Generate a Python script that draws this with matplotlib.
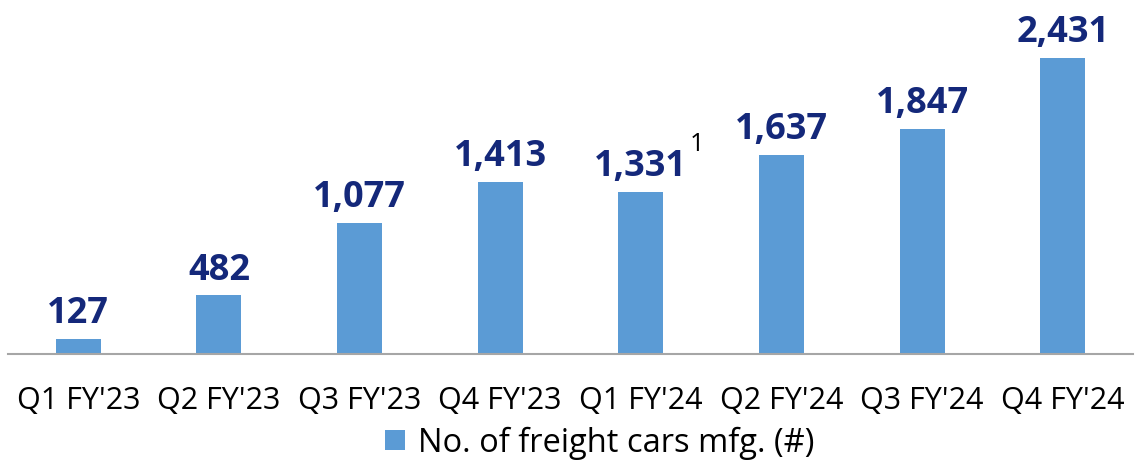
import matplotlib
matplotlib.use("Agg")
import matplotlib.pyplot as plt
from matplotlib.patches import Patch

quarters = ["Q1 FY'23", "Q2 FY'23", "Q3 FY'23", "Q4 FY'23",
            "Q1 FY'24", "Q2 FY'24", "Q3 FY'24", "Q4 FY'24"]
cars = [127, 482, 1077, 1413, 1331, 1637, 1847, 2431]
footnote_idx = 4  # Q1 FY'24 carries footnote 1

bar_color = "#5B9BD5"
label_color = "#14287A"

plt.rcParams['font.family'] = ['Open Sans', 'DejaVu Sans']

fig = plt.figure(figsize=(11.35, 4.66), dpi=100)
ax = fig.add_axes([8 / 1135, 112 / 466, 1125 / 1135, 354 / 466])

x = range(len(quarters))
bars = ax.bar(x, cars, width=0.32, color=bar_color, zorder=2)

for i, (b, v) in enumerate(zip(bars, cars)):
    ax.text(b.get_x() + b.get_width() / 2, v + 55, f"{v:,}",
            ha='center', va='bottom', fontsize=26, fontweight='bold',
            color=label_color)
ax.annotate("1", xy=(footnote_idx, cars[footnote_idx]), xytext=(56, 47),
            textcoords='offset pixels', fontsize=18, color='black',
            ha='center', va='center')

ax.set_xlim(-0.5, len(quarters) - 0.5)
ax.set_ylim(0, 2907)
ax.set_xticks(list(x))
ax.set_xticklabels(quarters, fontsize=22)
ax.tick_params(axis='x', length=0, pad=23)
ax.set_yticks([])
for side in ['top', 'right', 'left']:
    ax.spines[side].set_visible(False)
ax.spines['bottom'].set_color('#A6A6A6')
ax.spines['bottom'].set_linewidth(1.5)

handle = Patch(facecolor=bar_color, label='No. of freight cars mfg. (#)')
fig.legend(handles=[handle], loc='center', bbox_to_anchor=(600 / 1135, 23 / 466),
           frameon=False, fontsize=23.5, handlelength=0.6, handleheight=0.6,
           handletextpad=0.4, borderpad=0)

fig.savefig("out.png", dpi=100)
